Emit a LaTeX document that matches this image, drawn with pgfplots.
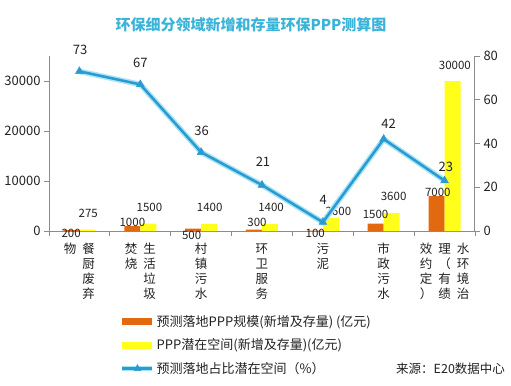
\documentclass[border=0pt]{standalone}
\usepackage{fontspec}
\setmainfont{Noto Sans CJK SC}
\usepackage{pgfplots}
\usepackage{pgfplotstable}
\pgfplotsset{compat=1.18}
\definecolor{barorange}{HTML}{E2690F}
\definecolor{baryellow}{HTML}{FFFF1A}
\definecolor{lineblue}{HTML}{2A9AD0}
\definecolor{glow}{HTML}{A8E4F7}
\definecolor{titleblue}{HTML}{3AB3D9}
\definecolor{axisgray}{HTML}{8C8C8C}
\definecolor{txt}{HTML}{222222}
\newcommand\vc[1]{\begin{tabular}[t]{@{}c@{}}#1\end{tabular}}
\newcommand\gap{\hspace{6bp}}
\newcommand\labA{\vc{物}\gap\vc{餐\\厨\\废\\弃}}
\newcommand\labB{\vc{焚\\烧}\gap\vc{生\\活\\垃\\圾}}
\newcommand\labC{\vc{村\\镇\\污\\水}}
\newcommand\labD{\vc{环\\卫\\服\\务}}
\newcommand\labE{\vc{污\\泥}}
\newcommand\labF{\vc{市\\政\\污\\水}}
\newcommand\labG{\vc{效\\约\\定\\）}\gap\vc{理\\（\\有\\绩}\gap\vc{水\\环\\境\\治}}

\pgfplotstableread{
x orange yellow pct
0 200 275 73
1 1000 1500 67
2 500 1400 36
3 300 1400 21
4 100 2600 4
5 1500 3600 42
6 7000 30000 23
}\datatable

\pgfplotstableread{
x y label
-0.137 -400 200
0.870 1800 1000
1.844 -800 500
2.917 1800 300
3.875 -400 100
4.866 3400 1500
5.889 7800 7000
}\orangelabels

\pgfplotstableread{
x y label
0.144 3600 275
1.151 4800 1500
2.141 4800 1400
3.149 4800 1400
4.255 4000 2600
5.163 7000 3600
6.170 33200 30000
}\yellowlabels

\pgfplotstableread{
x y label
0.012 82.7 73
1.002 76.8 67
2.009 45.7 36
3.016 31.5 21
4.007 14.2 4
5.080 48.9 42
6.020 29.3 23
}\linelabels

\pgfplotsset{
  common/.style={
    scale only axis, width=426bp, height=175bp,
    at={(49bp,155bp)}, anchor=south west,
    xmin=-0.5, xmax=6.5, ymin=0, clip=false,
    axis line style={-, axisgray, line width=1bp},
    tick style={axisgray, line width=0.8bp},
    major tick length=5bp, tick align=outside,
    tick label style={text=txt, font=\fontsize{13bp}{15bp}\selectfont},
    /pgf/number format/assume math mode=true,
    scaled ticks=false,
    /pgf/number format/1000 sep={},
  },
  lbl/.style={only marks, mark=none, nodes near coords, point meta=explicit symbolic,
    every node near coord/.append style={anchor=center, inner sep=0pt, text=txt, font=#1}},
}

\begin{document}
\begin{tikzpicture}
\useasboundingbox (0,0) rectangle (511bp,386bp);
\begin{axis}[common,
  ymax=35000,
  axis x line*=bottom, axis y line*=left,
  ytick={0,10000,20000,30000},
  xtick={-0.5,0.5,...,6.5},
  xticklabels={\labA,\labB,\labC,\labD,\labE,\labF,\labG,{}},
  xticklabel style={xshift=30.43bp, yshift=-3bp, anchor=north, font=\fontsize{12.5bp}{15bp}\selectfont},
  legend style={at={(0.1667,-0.47)}, anchor=north west, draw=none, fill=none,
    inner sep=0pt, row sep=7bp, font=\fontsize{13bp}{15bp}\selectfont, text=txt},
  legend cell align=left,
]
\addplot[ybar, bar width=16bp, bar shift=-8bp, fill=barorange, draw=none,
  legend image code/.code={\fill[barorange] (0bp,-3.5bp) rectangle (30bp,3.5bp);}]
  table[x=x,y=orange]{\datatable};
\addlegendentry{预测落地PPP规模(新增及存量) (亿元)}
\addplot[ybar, bar width=16bp, bar shift=8bp, fill=baryellow, draw=none,
  legend image code/.code={\fill[baryellow] (0bp,-3.5bp) rectangle (30bp,3.5bp);}]
  table[x=x,y=yellow]{\datatable};
\addlegendentry{PPP潜在空间(新增及存量)(亿元)}
\addlegendimage{lineblue,
  legend image code/.code={\draw[glow, line width=4.5bp] (0bp,0bp) -- (30bp,0bp); \draw[lineblue, line width=2.5bp, mark=triangle*, mark size=4bp, mark options={fill=lineblue, line width=0.5bp}, mark repeat=2, mark phase=2] plot coordinates {(0bp,0bp) (15bp,0bp) (30bp,0bp)};}}
\addlegendentry{预测落地占比潜在空间（\%）}
\addplot[lbl={\fontsize{11.5bp}{13bp}\selectfont}] table[x=x,y=y,meta=label]{\orangelabels};
\addplot[lbl={\fontsize{11.5bp}{13bp}\selectfont}] table[x=x,y=y,meta=label]{\yellowlabels};
\end{axis}
\begin{axis}[common,
  ymax=80,
  axis y line*=right, axis x line=none,
  ytick={0,20,40,60,80},
]
\addplot[glow, line width=5.5bp, mark=none, forget plot] table[x=x,y=pct]{\datatable};
\addplot[lineblue, line width=2.5bp, mark=triangle*, mark size=4.5bp,
  mark options={fill=lineblue, draw=lineblue, line width=0.5bp}] table[x=x,y=pct]{\datatable};
\addplot[lbl={\fontsize{13bp}{15bp}\selectfont}] table[x=x,y=y,meta=label]{\linelabels};
\end{axis}
\node[text=titleblue, font=\bfseries\fontsize{15bp}{18bp}\selectfont] at (251bp,361bp) {环保细分领域新增和存量环保PPP测算图};
\node[anchor=west, text=txt, font=\fontsize{12.5bp}{15bp}\selectfont, inner sep=0pt] at (396bp,17bp) {来源：E20数据中心};
\end{tikzpicture}
\end{document}
